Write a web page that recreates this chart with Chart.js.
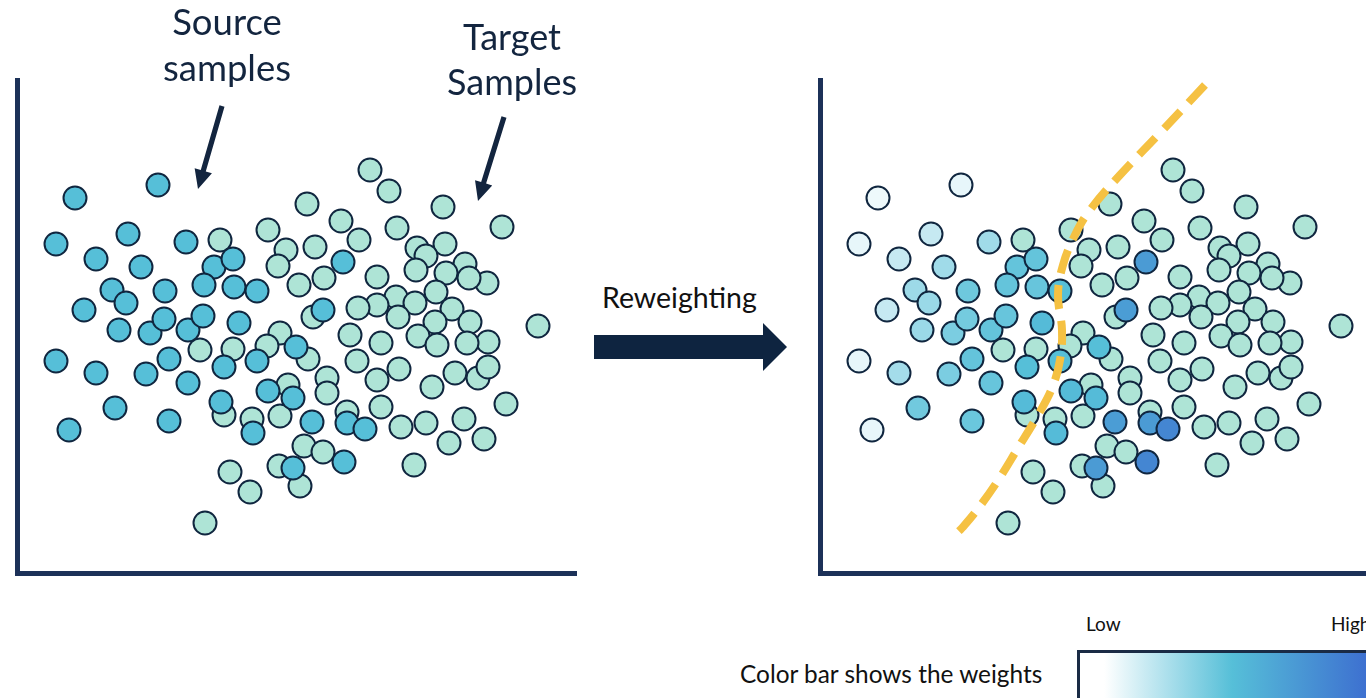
<!DOCTYPE html>
<html>
<head>
<meta charset="utf-8">
<title>Reweighting</title>
<script src="https://cdn.jsdelivr.net/npm/chart.js@4.4.1/dist/chart.umd.min.js"></script>
<style>
    html, body { margin: 0; padding: 0; background: #fff; overflow: hidden; }
    #page { position: relative; width: 1366px; height: 698px; overflow: hidden; font-family: Lato, "Open Sans", sans-serif; }
    #page canvas { position: absolute; top: 0; }
    .lbl { position: absolute; white-space: nowrap; }
    .navy { color: #13253f; }
    #colorBar { position: absolute; left: 1077px; top: 650px; width: 310px; height: 60px; border: 3px solid #1a2b45; box-sizing: border-box; }
    #arrows { position: absolute; left: 0; top: 0; }
</style>
</head>
<body>
<div id="page">
    <canvas id="leftChart" width="600" height="600" style="left:0px"></canvas>
    <canvas id="rightChart" width="600" height="600" style="left:800px"></canvas>

    <div class="lbl navy" style="left:127px; top:-2px; width:200px; text-align:center; font-size:36.5px; line-height:46px;">Source<br>samples</div>
    <div class="lbl navy" style="left:412px; top:14px; width:200px; text-align:center; font-size:36px; line-height:45px;">Target<br>Samples</div>
    <div class="lbl" style="left:602px; top:282px; font-size:28.5px; line-height:30px; color:#111;">Reweighting</div>
    <div class="lbl" style="left:740px; top:660px; font-size:24.4px; line-height:28px; color:#111;">Color bar shows the weights</div>
    <div class="lbl" style="left:1086px; top:613px; font-size:19px; line-height:22px; color:#111;">Low</div>
    <div class="lbl" style="left:1331px; top:613px; font-size:19px; line-height:22px; color:#111;">High</div>
    <div id="colorBar"></div>

    <svg id="arrows" width="1366" height="698"></svg>
</div>

<script>
// source samples: x / y (same points are shown on the right)
const sourceX = [58, 141, 39, 111, 169, 79, 124, 197, 216, 95, 109, 148, 187, 217, 240, 67, 102, 133, 147, 171, 186, 222,
    326, 306, 279, 39, 79, 129, 152, 171, 207, 240, 98, 52, 152, 204, 236, 251, 276, 295, 330, 348, 327, 276];
const sourceY = [375, 388, 329, 339, 331, 314, 306, 306, 314, 283, 270, 282, 288, 286, 282, 263, 243, 240, 254, 243, 257, 250,
    311, 263, 226, 212, 200, 199, 214, 190, 206, 212, 165, 143, 152, 171, 140, 182, 175, 151, 150, 144, 111, 105];
// weights after reweighting (0 = low, 1 = high)
const sourceWeight = [0.05, 0.07, 0.07, 0.17, 0.28, 0.17, 0.28, 0.46, 0.46, 0.29, 0.30, 0.43, 0.46, 0.45, 0.50, 0.17, 0.30, 0.39, 0.41, 0.46, 0.45, 0.52,
    0.70, 0.69, 0.50, 0.07, 0.27, 0.39, 0.46, 0.45, 0.50, 0.50, 0.42, 0.07, 0.44, 0.52, 0.52, 0.52, 0.52, 0.69, 0.70, 0.82, 0.82, 0.70];

// target samples
const targetX = [203, 251, 269, 261, 263, 250, 183, 216, 207, 235, 263, 271, 213, 233, 262, 188, 353, 372, 290, 426, 485, 324, 380, 342, 298,
    400, 428, 409, 399, 360, 448, 429, 470, 452, 307, 282, 419, 379, 398, 360, 341, 381, 435, 453, 418, 401, 471, 333, 296, 521,
    364, 420, 450, 291, 310, 310, 340, 360, 382, 438, 461, 471, 415, 330, 364, 384, 409, 447, 489, 432, 467, 287, 306, 283, 397];
const targetY = [333, 343, 323, 307, 240, 227, 223, 224, 158, 154, 157, 188, 101, 81, 107, 50, 403, 382, 369, 366, 346, 352, 345, 333, 326,
    325, 329, 317, 303, 296, 309, 300, 290, 295, 295, 288, 281, 276, 270, 268, 265, 256, 264, 251, 251, 237, 231, 238, 256, 247,
    230, 228, 230, 214, 195, 180, 212, 193, 204, 200, 195, 206, 186, 161, 166, 146, 150, 154, 169, 130, 134, 127, 121, 87, 108];

// decision boundary drawn on the reweighted panel
const boundaryX = [385, 340, 300, 270, 255, 243, 238, 242, 240, 232, 218, 198, 177, 157, 142, 137];
const boundaryY = [488, 440, 398, 363, 338, 308, 278, 243, 213, 185, 158, 125, 91, 63, 45, 40];

// colour bar
const weightStops = [0, 0.5, 1];
const weightColors = ["#ffffff", "#56bfd8", "#3a66cf"];

const axisColor = "#1c3158";
const outlineColor = "#10263f";
const sourceColor = "#56bfd8";
const targetColor = "#aee4d6";

function hexToRgb(hex) {
    const n = parseInt(hex.slice(1), 16);
    return [(n >> 16) & 255, (n >> 8) & 255, n & 255];
}

// Map a weight onto the colour bar
function weightColor(w) {
    for (let i = 1; i < weightStops.length; i++) {
        if (w <= weightStops[i]) {
            const t = (w - weightStops[i - 1]) / (weightStops[i] - weightStops[i - 1]);
            const a = hexToRgb(weightColors[i - 1]);
            const b = hexToRgb(weightColors[i]);
            const c = a.map((v, k) => Math.round(v + (b[k] - v) * t));
            return `rgb(${c[0]}, ${c[1]}, ${c[2]})`;
        }
    }
    return weightColors[weightColors.length - 1];
}

function toPoints(xs, ys) {
    return xs.map((x, i) => ({ x: x, y: ys[i] }));
}

function panelOptions(padLeft, padRight) {
    const axis = (max) => ({
        type: "linear",
        min: 0,
        max: max,
        grid: { display: false, drawTicks: false },
        ticks: { display: false },
        border: { display: true, color: axisColor, width: 5 }
    });
    return {
        responsive: false,
        animation: false,
        events: [],
        layout: { padding: { left: padLeft, right: padRight, top: 80, bottom: 27 } },
        plugins: { legend: { display: false }, tooltip: { enabled: false } },
        scales: { x: axis(559), y: axis(493) }
    };
}

const pointStyle = {
    pointRadius: 11.5,
    pointBorderWidth: 2,
    pointBorderColor: outlineColor,
    clip: false
};

// Left panel: before reweighting
new Chart(document.getElementById("leftChart").getContext("2d"), {
    type: "scatter",
    data: {
        datasets: [
            Object.assign({ label: "Source samples", data: toPoints(sourceX, sourceY), pointBackgroundColor: sourceColor }, pointStyle),
            Object.assign({ label: "Target samples", data: toPoints(targetX, targetY), pointBackgroundColor: targetColor }, pointStyle)
        ]
    },
    options: panelOptions(17, 24)
});

// Right panel: source points coloured by weight, boundary on top
new Chart(document.getElementById("rightChart").getContext("2d"), {
    type: "scatter",
    data: {
        datasets: [
            {
                label: "Boundary",
                data: toPoints(boundaryX, boundaryY),
                showLine: true,
                pointRadius: 0,
                borderColor: "#f5c142",
                borderWidth: 8,
                borderDash: [24, 12],
                tension: 0.4,
                clip: false
            },
            Object.assign({ label: "Source samples", data: toPoints(sourceX, sourceY), pointBackgroundColor: sourceWeight.map(weightColor) }, pointStyle),
            Object.assign({ label: "Target samples", data: toPoints(targetX, targetY), pointBackgroundColor: targetColor }, pointStyle)
        ]
    },
    options: panelOptions(20, 21)
});

// Colour bar gradient (white held a little at the low end, as in the original)
document.getElementById("colorBar").style.background =
    "linear-gradient(to right, #ffffff 0%, #ffffff 8%, " + weightStops.slice(1).map((s, i) => `${weightColors[i + 1]} ${s * 100}%`).join(", ") + ")";

// Arrows
const svg = document.getElementById("arrows");
const NS = "http://www.w3.org/2000/svg";

function addPolygon(pts, color) {
    const p = document.createElementNS(NS, "polygon");
    p.setAttribute("points", pts.map(q => q.join(",")).join(" "));
    p.setAttribute("fill", color);
    svg.appendChild(p);
}

function thinArrow(x1, y1, x2, y2, color) {
    const dx = x2 - x1, dy = y2 - y1;
    const len = Math.hypot(dx, dy);
    const ux = dx / len, uy = dy / len;
    const px = -uy, py = ux;
    const headLen = 19, headHalf = 9, shaftHalf = 2.6;
    const bx = x2 - ux * headLen, by = y2 - uy * headLen;
    addPolygon([
        [x1 + px * shaftHalf, y1 + py * shaftHalf],
        [bx + px * shaftHalf, by + py * shaftHalf],
        [bx + px * headHalf, by + py * headHalf],
        [x2, y2],
        [bx - px * headHalf, by - py * headHalf],
        [bx - px * shaftHalf, by - py * shaftHalf],
        [x1 - px * shaftHalf, y1 - py * shaftHalf]
    ], color);
}

thinArrow(222, 106, 198, 189, "#13253f");
thinArrow(504, 117, 478, 201, "#13253f");

// Big "Reweighting" arrow
addPolygon([[594, 335], [763, 335], [763, 323], [787, 347], [763, 371], [763, 359], [594, 359]], "#0e2440");
</script>
</body>
</html>
